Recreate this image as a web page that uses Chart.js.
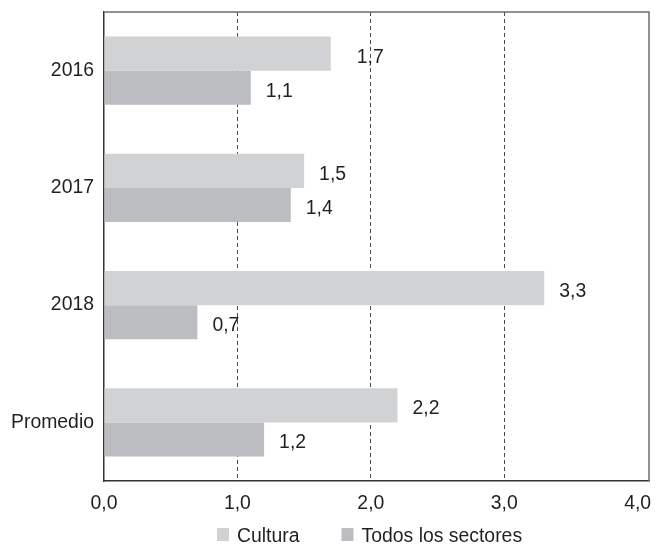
<!DOCTYPE html>
<html>
<head>
<meta charset="utf-8">
<script src="https://cdn.jsdelivr.net/npm/chart.js@4.4.0/dist/chart.umd.min.js"></script>
<style>
  html, body { margin: 0; padding: 0; background: #ffffff; }
  #wrap { width: 657px; height: 545px; }
</style>
</head>
<body>
<div id="wrap"><canvas id="c" width="657" height="545"></canvas></div>
<script>
// Categories and series
const categories = ['2016', '2017', '2018', 'Promedio'];
const seriesNames = ['Cultura', 'Todos los sectores'];
const cultura = [1.7, 1.5, 3.3, 2.2];
const todosSectores = [1.1, 1.4, 0.7, 1.2];
const xTicks = [0, 1, 2, 3, 4];

const TEXT = '#231f20';
const FONT = { family: '"Liberation Sans", Arial, sans-serif', size: 19.4 };
const fmt = v => v.toFixed(1).replace('.', ',');

// Value labels to the right of each bar end
const valueLabels = {
  id: 'valueLabels',
  afterDatasetsDraw(chart, args, opts) {
    const ctx = chart.ctx;
    ctx.save();
    ctx.font = `${FONT.size}px ${FONT.family}`;
    ctx.fillStyle = TEXT;
    ctx.textAlign = 'left';
    ctx.textBaseline = 'alphabetic';
    chart.data.datasets.forEach((ds, di) => {
      chart.getDatasetMeta(di).data.forEach((bar, i) => {
        const extra = (opts.extra && opts.extra[di + ':' + i]) || 0;
        ctx.fillText(fmt(ds.data[i]), bar.x + opts.gap + extra, bar.y + 9);
      });
    });
    ctx.restore();
  }
};

// Thin frame on the top and right of the plot area
const frame = {
  id: 'frame',
  afterDatasetsDraw(chart) {
    const { ctx, chartArea: a } = chart;
    ctx.save();
    ctx.strokeStyle = '#6d6e71';
    ctx.lineWidth = 1.5;
    ctx.beginPath();
    ctx.moveTo(a.left, a.top);
    ctx.lineTo(a.right, a.top);
    ctx.lineTo(a.right, a.bottom);
    ctx.stroke();
    ctx.restore();
  }
};

// Legend row below the x axis, starting a fixed distance from the plot's left edge
const bottomLegend = {
  id: 'bottomLegend',
  afterDraw(chart, args, opts) {
    const { ctx, chartArea: a } = chart;
    const box = 12, gapText = 8, gapItem = 42, baseline = 542;
    ctx.save();
    ctx.font = `${FONT.size}px ${FONT.family}`;
    let x = a.left + opts.indent;
    chart.data.datasets.forEach(ds => {
      const w = ctx.measureText(ds.label).width;
      ctx.fillStyle = ds.backgroundColor;
      ctx.fillRect(x, baseline - 14, box, box + 1);
      ctx.fillStyle = TEXT;
      ctx.textAlign = 'left';
      ctx.textBaseline = 'alphabetic';
      ctx.fillText(ds.label, x + box + gapText, baseline);
      x += box + gapText + w + gapItem;
    });
    ctx.restore();
  }
};

new Chart(document.getElementById('c'), {
  type: 'bar',
  data: {
    labels: categories,
    datasets: [
      { label: seriesNames[0], data: cultura, backgroundColor: '#d1d2d4' },
      { label: seriesNames[1], data: todosSectores, backgroundColor: '#bcbdc0' }
    ]
  },
  options: {
    indexAxis: 'y',
    responsive: false,
    animation: false,
    devicePixelRatio: 1,
    layout: { padding: { top: 12, right: 8, left: 0, bottom: 0 } },
    datasets: { bar: { barPercentage: 1, categoryPercentage: 0.58, borderWidth: 0 } },
    scales: {
      x: {
        min: 0,
        max: 4.085,
        afterBuildTicks: s => { s.ticks = xTicks.map(v => ({ value: v })); },
        afterFit: s => { s.height = 64; s.paddingLeft = 0; s.paddingRight = 0; },
        ticks: {
          callback: v => fmt(v),
          color: TEXT, font: FONT, padding: 11,
          maxRotation: 0, autoSkip: false
        },
        grid: {
          drawTicks: false,
          lineWidth: 1,
          color: c => (c.tick && (c.tick.value === 0 || c.tick.value === 4)) ? 'rgba(0,0,0,0)' : '#4a4a4a'
        },
        border: { display: true, color: '#333333', width: 1.5, dash: [4, 3] }
      },
      y: {
        afterFit: s => { s.width = 104; s.paddingTop = 0; s.paddingBottom = 0; },
        ticks: { color: TEXT, font: FONT, padding: 10 },
        grid: { display: false, drawTicks: false },
        border: { display: true, color: '#333333', width: 1.5 }
      }
    },
    plugins: {
      legend: { display: false },
      tooltip: { enabled: false },
      valueLabels: { gap: 15, extra: { '0:0': 11 } },
      bottomLegend: { indent: 113 }
    }
  },
  plugins: [valueLabels, frame, bottomLegend]
});
</script>
</body>
</html>
